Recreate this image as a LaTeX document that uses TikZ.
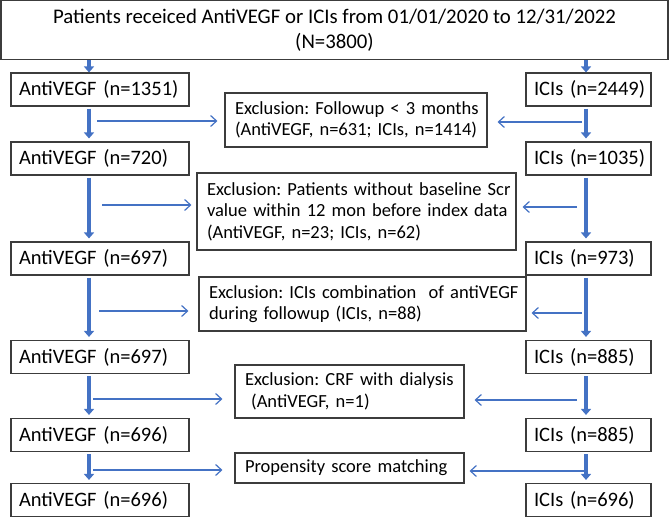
\documentclass[tikz,border=0pt]{standalone}
\usepackage{fontspec}
\setmainfont{Carlito}
\usetikzlibrary{arrows.meta,calc}
\definecolor{flowblue}{RGB}{68,114,196}
\definecolor{boxline}{RGB}{60,60,60}
\newcommand{\oneline}[1]{\mbox{#1}}
\begin{document}
\frenchspacing
\begin{tikzpicture}[x=1pt,y=-1pt,
  every node/.style={font=\fontsize{20.5}{23}\selectfont},
  frame/.style={draw=boxline,line width=1.1pt,rectangle,inner ysep=0pt},
  armbox/.style={frame,inner xsep=8pt,minimum height=33pt,align=left},
  leftbox/.style={armbox,text width=162pt},
  rightbox/.style={armbox,text width=109pt},
  exclbox/.style={frame,inner xsep=10pt,align=left,font=\fontsize{18.5}{21.5}\selectfont},
  mainflow/.style={draw=flowblue,line width=4pt,-{Triangle[width=10pt,length=6pt]}},
  sideflow/.style={draw=flowblue,line width=1.2pt,-{Straight Barb[width=11pt,length=6pt]}}]
\useasboundingbox (0,0) rectangle (669,518);

% cohort
\node[frame,minimum width=667pt,minimum height=59pt,align=center,
      font=\fontsize{20.8}{25}\selectfont] (top) at (334.5,30.2)
  {Patients receiced AntiVEGF or ICIs from 01/01/2020 to 12/31/2022\\(N=3800)};

% AntiVEGF arm
\node[leftbox] (a1) at (100,89.5) {\oneline{AntiVEGF (n=1351)}};
\node[leftbox] (a2) at (100,158.5) {\oneline{AntiVEGF (n=720)}};
\node[leftbox] (a3) at (100,258.5) {\oneline{AntiVEGF (n=697)}};
\node[leftbox] (a4) at (100,357) {\oneline{AntiVEGF (n=697)}};
\node[leftbox] (a5) at (100,435) {\oneline{AntiVEGF (n=696)}};
\node[leftbox] (a6) at (100,500) {\oneline{AntiVEGF (n=696)}};

% ICIs arm
\node[rightbox] (b1) at (588.5,89.5) {\oneline{ICIs (n=2449)}};
\node[rightbox] (b2) at (588.5,158.5) {\oneline{ICIs (n=1035)}};
\node[rightbox] (b3) at (588.5,258.5) {\oneline{ICIs (n=973)}};
\node[rightbox] (b4) at (588.5,357) {\oneline{ICIs (n=885)}};
\node[rightbox] (b5) at (588.5,435) {\oneline{ICIs (n=885)}};
\node[rightbox] (b6) at (588.5,500) {\oneline{ICIs (n=696)}};

% exclusion steps
\node[exclbox,text width=242pt,minimum height=54pt] (e1) at (356,120)
  {\oneline{Exclusion: Followup < 3 months}\\\oneline{(AntiVEGF, n=631; ICIs, n=1414)}};
\node[exclbox,text width=299pt,minimum height=77pt] (e2) at (356.5,211.5)
  {\oneline{Exclusion: Patients without baseline Scr}\\\oneline{value within 12 mon before index data}\\\oneline{(AntiVEGF, n=23; ICIs, n=62)}};
\node[exclbox,text width=307pt,minimum height=54pt] (e3) at (362.5,304)
  {\oneline{Exclusion: ICIs combination\ \ of antiVEGF}\\\oneline{during followup (ICIs, n=88)}};
\node[exclbox,text width=209pt,minimum height=53pt] (e4) at (349.5,391.5)
  {\oneline{Exclusion: CRF with dialysis}\\\oneline{\ (AntiVEGF, n=1)}};
\node[exclbox,text width=209pt,minimum height=30pt] (e5) at (349.5,468)
  {\oneline{Propensity score matching}};

% main flow lines
\coordinate (lx) at (89,0);
\coordinate (rx) at (586,0);
\draw[mainflow] (top.south -| lx) -- (a1.north -| lx);
\draw[mainflow] (top.south -| rx) -- (b1.north -| rx);
\foreach \p/\n in {a1/a2,a2/a3,a3/a4,a4/a5,a5/a6}
  \draw[mainflow] ($(\p.south -| lx)+(0,2)$) -- ($(\n.north -| lx)+(0,-3)$);
\foreach \p/\n in {b1/b2,b2/b3,b3/b4,b4/b5,b5/b6}
  \draw[mainflow] ($(\p.south -| rx)+(0,2)$) -- ($(\n.north -| rx)+(0,-3)$);

% side branches towards the exclusion boxes
\coordinate (l1) at (97,121);
\coordinate (l2) at (102,205);
\coordinate (l3) at (99,311);
\coordinate (l4) at (93,399);
\coordinate (l5) at (93,470);
\coordinate (r1) at (582,122);
\coordinate (r2) at (577,207);
\coordinate (r3) at (582,313);
\coordinate (r4) at (577,400);
\coordinate (r5) at (586,471);
\draw[sideflow] (l1) -- ($(l1 -| e1.west)+(-7,0)$);
\draw[sideflow] (l2) -- ($(l2 -| e2.west)+(-5,0)$);
\draw[sideflow] (l3) -- ($(l3 -| e3.west)+(-10,0)$);
\draw[sideflow] (l4) -- ($(l4 -| e4.west)+(-12,0)$);
\draw[sideflow] (l5) -- ($(l5 -| e5.west)+(-12,0)$);
\draw[sideflow] (r1) -- ($(r1 -| e1.east)+(10,0)$);
\draw[sideflow] (r2) -- ($(r2 -| e2.east)+(6,0)$);
\draw[sideflow] (r3) -- ($(r3 -| e3.east)+(5,0)$);
\draw[sideflow] (r4) -- ($(r4 -| e4.east)+(10,0)$);
\draw[sideflow] (r5) -- ($(r5 -| e5.east)+(5,0)$);
\end{tikzpicture}
\end{document}
